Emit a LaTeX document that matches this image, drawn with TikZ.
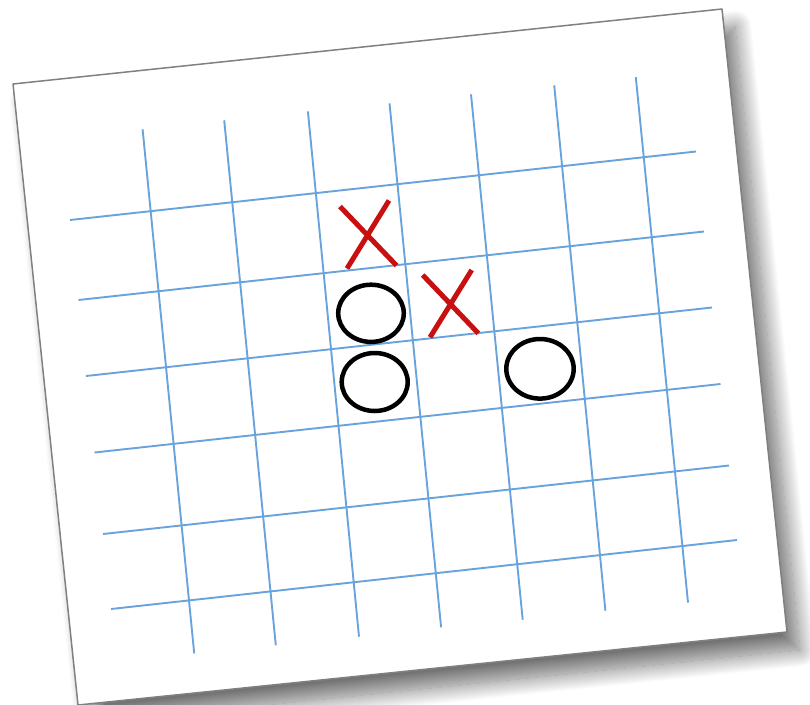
\documentclass[tikz,border=0pt]{standalone}
\usetikzlibrary{shadows.blur}
\definecolor{gridblue}{RGB}{104,163,220}
\definecolor{xred}{RGB}{200,16,16}
\tikzset{
  paper/.style={fill=white, draw=black!50, line width=1.5pt, line join=round,
    blur shadow={shadow xshift=13pt, shadow yshift=-18pt, shadow blur radius=17pt, shadow blur steps=24, shadow opacity=55}},
  gridline/.style={draw=gridblue, line width=1.9pt},
  xmark/.style={draw=xred, line width=5pt},
  omark/.style={draw=black, line width=4.5pt},
}
\begin{document}
\begin{tikzpicture}[x=1pt,y=-1pt]
\useasboundingbox (0,0) rectangle (810,704);
\clip (0,0) rectangle (810,704);
% paper
\coordinate (tl) at (13,84);
\coordinate (tr) at (722,9);
\coordinate (br) at (787,632);
\coordinate (bl) at (78,705);
\path[paper] (tl) -- (tr) -- (br) -- (bl) -- cycle;
% horizontal grid lines
\foreach \ax/\ay/\bx/\by in {70/220/696/151.5, 78.5/300/704/231.5, 86/376/712/307.5, 94.5/452.5/720.5/384, 103/534/729/465.5, 111/609/737/540}{
  \draw[gridline] (\ax,\ay) -- (\bx,\by);
}
% vertical grid lines
\foreach \ax/\ay/\bx/\by in {142.6/129.3/194.2/653.3, 224.2/120.3/275.8/645.3, 307.9/111.4/359/636.7, 389.5/103.3/441.1/627.3, 471/94.3/522.7/619.7, 554.2/85.3/605.4/610.7, 635.8/77.2/688/602.6}{
  \draw[gridline] (\ax,\ay) -- (\bx,\by);
}
% X marks
\draw[xmark] (340,206.5) -- (396.5,265.5);
\draw[xmark] (389,200.5) -- (347,268.5);
\draw[xmark] (422.7,275) -- (478.3,333.3);
\draw[xmark] (471.7,270) -- (430,337.3);
% O marks
\draw[omark] (371,313.3) ellipse [x radius=32.8pt, y radius=28.6pt];
\draw[omark] (374.7,382) ellipse [x radius=33pt, y radius=29pt];
\draw[omark] (540,368.8) ellipse [x radius=33.7pt, y radius=29.8pt];
\end{tikzpicture}
\end{document}
